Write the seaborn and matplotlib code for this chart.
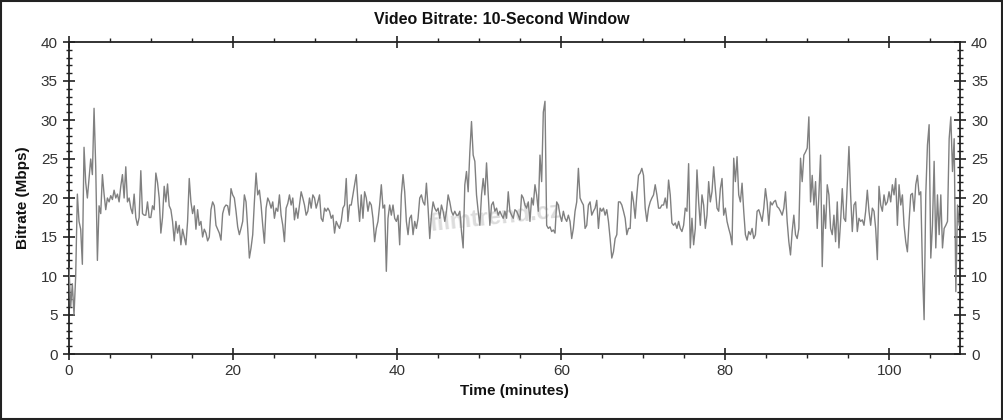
import numpy as np
import pandas as pd
import matplotlib
matplotlib.use("Agg")
import matplotlib.pyplot as plt
from matplotlib.ticker import MultipleLocator
from matplotlib.patches import Rectangle
import seaborn as sns

# ---- data (Mbps, ~12 s sampling of the 10-second window bitrate) ----
seg1 = [11.0, 6.0, 9.0, 5.0, 10.0, 20.5, 17.0, 16.0, 11.5, 26.5, 22.0, 20.0, 22.5, 25.0, 23.0, 31.5,
        24.0, 12.0, 19.0, 18.0, 23.0, 20.5, 18.5, 20.0, 19.5, 20.3, 19.8, 21.0, 20.0, 20.5, 19.5, 21.5,
        23.0, 20.0, 24.0, 19.5, 20.0, 18.7, 18.0, 20.5, 17.5, 16.5, 17.5, 23.5, 18.0, 17.8, 17.8, 19.5,
        17.5, 17.5, 19.0, 18.5, 23.2, 22.0, 20.0, 15.5, 17.5, 21.5, 19.5, 21.8, 19.0, 18.5, 17.0, 14.5,
        17.0, 15.5, 16.5, 14.0, 16.0, 15.0, 14.0, 17.0, 22.5, 19.5, 18.0, 19.0, 16.0, 18.5, 16.5, 17.0,
        15.0, 16.0, 15.5, 14.5, 15.0, 18.5, 19.5, 19.0, 16.5, 16.0, 15.5]
seg2 = [14.6, 18.0, 18.8, 19.1, 19.0, 17.8, 21.2, 20.4, 20.0, 18.3, 16.3, 15.3, 16.1, 17.0, 20.4, 19.5,
        16.1, 12.3, 13.6, 15.3, 19.5, 23.2, 20.4, 21.0, 19.1, 16.5, 14.2, 18.7, 20.0, 19.5, 18.7, 19.5,
        17.4, 18.7, 18.3, 20.4, 17.8, 16.5, 14.4, 18.7, 19.3, 20.4, 19.1, 20.0, 17.2, 18.7, 17.4, 19.1,
        20.8, 20.0, 19.1, 17.8, 18.3, 20.0, 18.7, 20.4, 20.0, 18.7, 19.5, 20.4, 17.4, 17.0, 18.7, 18.3,
        18.7, 18.3, 17.4, 17.8, 15.5, 17.0, 16.5, 16.1, 17.0, 18.7, 19.1, 22.5, 17.0, 19.1, 19.1, 20.4,
        21.7, 23.0, 19.5, 17.0, 20.4, 17.4, 20.8, 20.0]
seg3 = [18.3, 19.5, 19.1, 17.4, 14.4, 16.1, 17.0, 19.1, 21.7, 18.7, 19.1, 10.6, 17.4, 19.1, 17.8, 19.1,
        17.4, 17.0, 17.8, 14.0, 20.4, 23.0, 20.8, 17.0, 15.3, 17.4, 17.8, 15.3, 17.0, 16.1, 17.4, 20.0,
        20.4, 19.5, 19.1, 21.9, 18.7, 14.8, 17.8, 19.5, 18.7, 18.3, 18.7, 17.4, 19.1, 18.3, 17.0, 18.3,
        20.4, 19.5, 18.3, 17.8, 18.3, 17.8, 17.8, 18.3, 15.7, 13.6, 21.7, 23.4, 20.8, 25.9, 29.8, 25.5,
        24.7, 20.4, 18.3, 16.5, 20.4, 22.5, 20.4, 24.5, 20.4, 16.5, 19.1, 19.5, 18.3, 18.7, 17.8, 18.3,
        17.8, 17.4, 18.3, 17.4, 20.8, 18.3, 17.8, 17.4]
seg4 = [18.5, 18.3, 17.8, 17.2, 20.4, 20.0, 19.1, 18.7, 19.5, 17.0, 20.0, 19.1, 21.7, 20.4, 18.3, 25.5,
        22.1, 31.0, 32.4, 16.5, 16.1, 16.3, 15.7, 15.9, 15.5, 19.5, 19.1, 17.8, 17.0, 18.3, 17.4, 17.0,
        17.8, 17.0, 14.8, 16.1, 18.3, 19.5, 23.8, 20.0, 19.5, 19.1, 16.1, 16.5, 19.1, 19.5, 17.8, 18.3,
        18.7, 19.7, 16.1, 18.7, 18.3, 18.7, 17.8, 18.5, 17.0, 14.8, 12.3, 13.1, 14.8, 15.3, 19.5, 19.5,
        19.1, 18.3, 17.4, 15.3, 16.1, 16.1, 20.8, 19.5, 17.4, 20.4, 22.9, 23.2, 23.8, 22.9, 18.7, 17.0,
        18.7, 19.5, 20.0, 20.4, 21.7, 20.4, 18.7, 18.7]
seg5 = [19.1, 19.1, 20.0, 18.7, 22.3, 20.4, 16.8, 16.5, 16.8, 16.1, 17.0, 16.1, 15.7, 16.5, 18.7, 18.3,
        24.4, 13.6, 17.4, 14.0, 16.1, 23.6, 19.5, 16.5, 20.4, 19.1, 16.1, 17.8, 22.1, 19.5, 20.8, 24.0,
        21.2, 18.7, 18.3, 21.2, 22.5, 17.8, 18.7, 17.0, 16.1, 15.3, 14.0, 25.1, 22.1, 25.3, 20.4, 19.5,
        21.9, 18.3, 15.3, 14.6, 15.7, 15.3, 16.1, 14.8, 15.3, 18.3, 18.5, 17.8, 17.0, 18.7, 21.2, 19.5,
        16.5, 19.5, 19.1, 19.5, 19.7, 18.9, 18.7, 18.3, 17.8, 18.7, 20.8, 17.0, 14.4, 12.7, 15.7, 17.8,
        15.3, 14.8, 16.1, 25.1, 22.1, 25.5, 25.9, 26.4]
seg6 = [30.4, 19.5, 22.9, 19.1, 22.1, 16.1, 20.4, 25.5, 11.2, 19.1, 16.1, 21.7, 20.4, 16.1, 15.3, 17.8,
        14.4, 19.5, 13.6, 17.0, 21.2, 17.4, 17.0, 21.7, 26.6, 20.4, 15.7, 19.1, 19.5, 15.7, 17.4, 17.0,
        17.2, 16.5, 18.3, 21.0, 18.3, 16.5, 18.7, 18.3, 16.1, 12.1, 21.5, 19.1, 18.3, 20.4, 19.1, 19.5,
        20.8, 19.5, 21.7, 20.4, 22.5, 16.5, 21.7, 19.1, 20.4, 16.5, 14.4, 13.1, 17.0, 20.4, 20.6, 18.3,
        21.7, 22.9, 20.4, 20.8, 11.0, 4.4, 20.4, 26.8, 29.4, 12.3, 16.5, 24.7, 13.6, 20.4, 15.3, 20.4,
        13.6, 16.1, 16.5, 17.0, 27.6, 30.4, 23.4, 27.6, 8.0, 19.1, 16.5]

bitrate = seg1 + seg2 + seg3 + seg4 + seg5 + seg6
duration_min = 108.5
x_ticks = [0, 20, 40, 60, 80, 100]
y_ticks = [0, 5, 10, 15, 20, 25, 30, 35, 40]

df = pd.DataFrame({
    "time": np.linspace(0, duration_min, len(bitrate)),
    "bitrate": bitrate,
})

# ---- styling ----
sns.set_style("ticks")
plt.rcParams["font.family"] = ["Liberation Sans", "DejaVu Sans"]

fig = plt.figure(figsize=(10.04, 4.2), dpi=100)
ax = fig.add_axes([69 / 1004, 66 / 420, 891 / 1004, 312 / 420])

sns.lineplot(data=df, x="time", y="bitrate", ax=ax, color="#808080",
             linewidth=1.0, zorder=3)

# watermark
ax.text(52, 17.5, "filmtrend.cz", fontsize=17, fontweight="bold", color="#dcdcdc",
        ha="center", va="center", rotation=6, zorder=1)

ax.set_xlim(0, 108.6)
ax.set_ylim(0, 40)
ax.set_xticks(x_ticks)
ax.set_yticks(y_ticks)
ax.xaxis.set_minor_locator(MultipleLocator(5))
ax.yaxis.set_minor_locator(MultipleLocator(1))

for s in ax.spines.values():
    s.set_visible(True)
    s.set_color("#222222")
    s.set_linewidth(1.3)

ax.tick_params(axis="both", which="major", labelsize=11, colors="#222222",
               direction="inout", length=9, width=1.2)
ax.tick_params(axis="both", which="minor", direction="inout", length=5,
               width=1.0, colors="#222222")
ax.tick_params(axis="y", which="both", left=True, right=True,
               labelleft=True, labelright=True)
ax.tick_params(axis="x", which="major", top=True, bottom=True)
ax.tick_params(axis="x", which="minor", top=True, bottom=True, direction="out",
               length=3)
ax.tick_params(axis="x", which="major", pad=3)
for lbl in ax.get_xticklabels() + ax.get_yticklabels():
    lbl.set_color("#333333")

ax.set_xlabel("Time (minutes)", fontsize=11, fontweight="bold", color="#111111", labelpad=4)
ax.set_ylabel("Bitrate (Mbps)", fontsize=11, fontweight="bold", color="#111111", labelpad=8)
fig.text(0.5, 1 - 20 / 420, "Video Bitrate: 10-Second Window", ha="center", va="center",
         fontsize=11.5, fontweight="bold", color="#111111")

# figure border
fig.patches.append(Rectangle((0.001, 0.002), 0.997, 0.995, transform=fig.transFigure,
                             fill=False, edgecolor="#222222", linewidth=1.5))

fig.savefig("out.png", dpi=100)
